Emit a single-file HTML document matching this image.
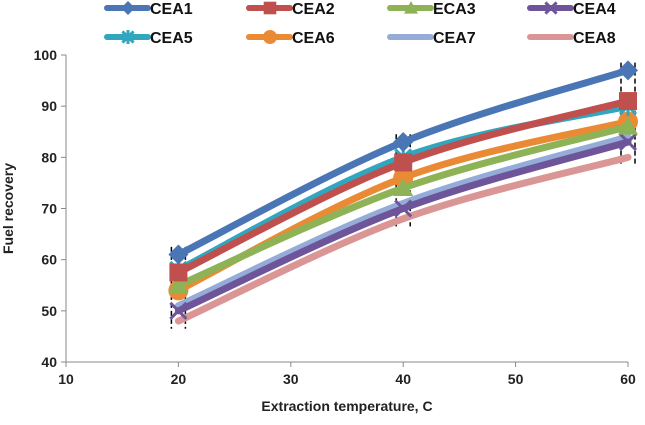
<!DOCTYPE html>
<html><head><meta charset="utf-8"><style>
body{margin:0;background:#fff;}
svg text{font-family:"Liberation Sans",sans-serif;}
</style></head><body>
<svg id="chart" width="645" height="420" xmlns="http://www.w3.org/2000/svg"></svg>
<script>
const categories = [20, 40, 60];
const seriesNames = ["CEA1","CEA2","ECA3","CEA4","CEA5","CEA6","CEA7","CEA8"];
const CEA1 = [61, 83, 97];
const CEA2 = [57.5, 79, 91];
const ECA3 = [55, 74, 86];
const CEA4 = [50, 70, 83];
const CEA5 = [58, 80, 90];
const CEA6 = [54, 76, 87];
const CEA7 = [51, 71, 84];
const CEA8 = [48, 68, 80];
const xTicks = [10, 20, 30, 40, 50, 60];
const yTicks = [40, 50, 60, 70, 80, 90, 100];
const seriesData = [CEA1, CEA2, ECA3, CEA4, CEA5, CEA6, CEA7, CEA8];
const colors = ["#4a76b6","#c0504d","#8db356","#6e559a","#31a6bf","#eb8a35","#95acd8","#d99694"];
const markers = ["diamond","square","triangle","x","star","circle","none","none"];

const svg = document.getElementById('chart');
const NS = "http://www.w3.org/2000/svg";
const L=66, R=628, T=55, B=362;
const xs = v => L + (v-10)/(60-10)*(R-L);
const ys = v => B - (v-40)/(100-40)*(B-T);
function mk(tag, attrs, parent){const e=document.createElementNS(NS,tag);for(const k in attrs)e.setAttribute(k,attrs[k]);(parent||svg).appendChild(e);return e;}

let ax = mk('line',{x1:L,y1:T,x2:L,y2:B,stroke:'#888','stroke-width':1});


ax = mk('line',{x1:L,y1:B,x2:R,y2:B,stroke:'#888','stroke-width':1});


yTicks.forEach(v=>{
  mk('line',{x1:L-5,y1:ys(v),x2:L,y2:ys(v),stroke:'#888'});
  const t=mk('text',{x:L-9,y:ys(v)+5,'text-anchor':'end','font-size':14,'font-weight':'bold',fill:'#222'});t.textContent=v;
  
  
});
xTicks.forEach(v=>{
  mk('line',{x1:xs(v),y1:B,x2:xs(v),y2:B+5,stroke:'#888'});
  const t=mk('text',{x:xs(v),y:B+22,'text-anchor':'middle','font-size':14,'font-weight':'bold',fill:'#222'});t.textContent=v;
  
  
});
let t=mk('text',{x:(L+R)/2,y:411,'text-anchor':'middle','font-size':14,'font-weight':'bold',fill:'#222'});t.textContent='Extraction temperature, C';


t=mk('text',{x:0,y:0,'text-anchor':'middle','font-size':14,'font-weight':'bold',fill:'#222',transform:`translate(13,${(T+B)/2}) rotate(-90)`});t.textContent='Fuel recovery';



function marker(type,x,y,c,g,s){
  s=s||1;
  if(type==='diamond') mk('polygon',{points:`${x},${y-10*s} ${x+10*s},${y} ${x},${y+10*s} ${x-10*s},${y}`,fill:c},g);
  else if(type==='square') mk('rect',{x:x-9*s,y:y-9*s,width:18*s,height:18*s,fill:c},g);
  else if(type==='triangle') mk('polygon',{points:`${x},${y-10*s} ${x+10*s},${y+8*s} ${x-10*s},${y+8*s}`,fill:c},g);
  else if(type==='x'){mk('path',{d:`M${x-8*s},${y-8*s}L${x+8*s},${y+8*s}M${x+8*s},${y-8*s}L${x-8*s},${y+8*s}`,stroke:c,'stroke-width':3},g);}
  else if(type==='star'){mk('path',{d:`M${x-8*s},${y-8*s}L${x+8*s},${y+8*s}M${x+8*s},${y-8*s}L${x-8*s},${y+8*s}M${x},${y-10*s}L${x},${y+10*s}`,stroke:c,'stroke-width':3},g);}
  else if(type==='circle') mk('circle',{cx:x,cy:y,r:10*s,fill:c},g);
}
function smooth(pts){
  let d=`M${pts[0][0]},${pts[0][1]}`;
  for(let i=0;i<pts.length-1;i++){
    const p0=pts[i-1]||pts[i],p1=pts[i],p2=pts[i+1],p3=pts[i+2]||p2;
    const c1=[p1[0]+(p2[0]-p0[0])/6,p1[1]+(p2[1]-p0[1])/6];
    const c2=[p2[0]-(p3[0]-p1[0])/6,p2[1]-(p3[1]-p1[1])/6];
    d+=`C${c1[0]},${c1[1]} ${c2[0]},${c2[1]} ${p2[0]},${p2[1]}`;
  }
  return d;
}
categories.forEach((c,i)=>{
  const vals=seriesData.map(s=>s[i]);
  const lo=Math.min(...vals)-1.5, hi=Math.max(...vals)+1.5;
  [-7,7].forEach(dx=>{
    const e=mk('line',{x1:xs(c)+dx,y1:ys(hi),x2:xs(c)+dx,y2:ys(lo),stroke:'#000','stroke-width':1.5,'stroke-dasharray':'5,3'});
    
    
  });
});
for(let s=seriesData.length-1;s>=0;s--){
  const g=mk('g',{});
  
  
  const pts=categories.map((c,i)=>[xs(c),ys(seriesData[s][i])]);
  mk('path',{d:smooth(pts),fill:'none',stroke:colors[s],'stroke-width':7,'stroke-linecap':'round'},g);
  pts.forEach(p=>marker(markers[s],p[0],p[1],colors[s],g));
}
const legX=[107,249,390,530];
const legY=[8,37];
seriesNames.forEach((n,i)=>{
  const g=mk('g',{});
  
  
  const x=legX[i%4], y=legY[Math.floor(i/4)];
  mk('line',{x1:x,y1:y,x2:x+41,y2:y,stroke:colors[i],'stroke-width':6,'stroke-linecap':'round'},g);
  marker(markers[i],x+21,y,colors[i],g,0.7);
  const tt=mk('text',{x:x+43,y:y+6,'font-size':16,'font-weight':'bold',fill:'#111'},g);tt.textContent=n;
});
</script>
</body></html>
